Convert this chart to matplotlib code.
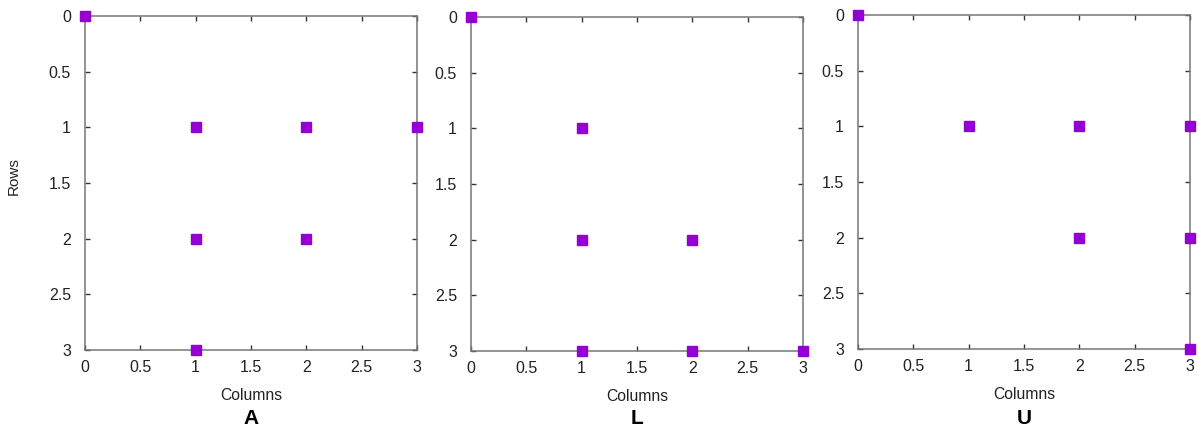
import matplotlib.pyplot as plt

plt.rcParams['font.family'] = ['Liberation Sans', 'DejaVu Sans']

# Ненулевые элементы матриц (столбец, строка)
a_cols = [0, 1, 2, 3, 1, 2, 1]
a_rows = [0, 1, 1, 1, 2, 2, 3]

l_cols = [0, 1, 1, 2, 1, 2, 3]
l_rows = [0, 1, 2, 2, 3, 3, 3]

u_cols = [0, 1, 2, 3, 2, 3, 3]
u_rows = [0, 1, 1, 1, 2, 2, 3]

names = ['A', 'L', 'U']
ticks = [0, 0.5, 1, 1.5, 2, 2.5, 3]
tick_labels = ['0', '0.5', '1', '1.5', '2', '2.5', '3']

W, H = 1198, 428
fig = plt.figure(figsize=(W / 100, H / 100), dpi=100)

# положения панелей в пикселях: left, top, right, bottom
boxes = [(85, 16, 417, 350), (471, 17, 803, 351), (858, 15, 1190, 349)]
data = [(a_cols, a_rows), (l_cols, l_rows), (u_cols, u_rows)]

for i, (box, (cols, rows), name) in enumerate(zip(boxes, data, names)):
    l, t, r, b = box
    ax = fig.add_axes([l / W, 1 - b / H, (r - l) / W, (b - t) / H])
    ax.plot(cols, rows, 's', color='#9400D3', ms=7.3, clip_on=False, zorder=3)
    ax.set_xlim(0, 3)
    ax.set_ylim(3, 0)
    ax.set_xticks(ticks)
    ax.set_xticklabels(tick_labels)
    ax.set_yticks(ticks)
    ax.set_yticklabels(tick_labels)
    for s in ax.spines.values():
        s.set_color('#777777')
        s.set_linewidth(1.1)
    ax.tick_params(direction='in', top=True, right=True, length=3.5,
                   width=1, color='#333333', labelsize=11.5, labelcolor='#222222')
    ax.tick_params(axis='y', pad=10)
    ax.tick_params(axis='x', pad=7.5)
    ax.set_xlabel('Columns', fontsize=11.3, color='#222222', labelpad=9)
    if i == 0:
        ax.set_ylabel('Rows', fontsize=11, color='#222222')
        ax.yaxis.set_label_coords(-0.193, 0.52)
    fig.text((l + r) / 2 / W, 0.022, name, ha='center', va='center',
             fontsize=15, fontweight='bold')

fig.savefig('out.png', dpi=100)
